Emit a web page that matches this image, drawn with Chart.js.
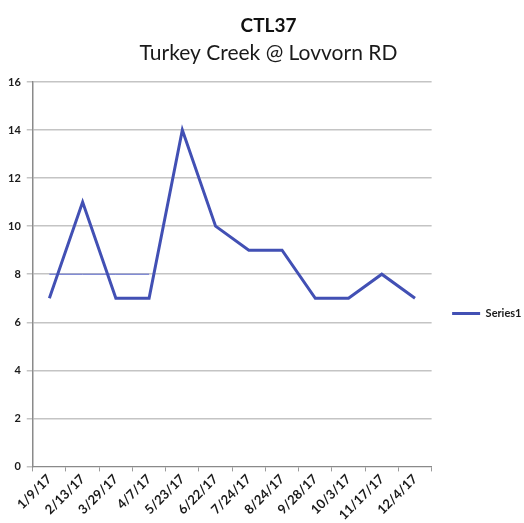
<!DOCTYPE html>
<html>
<head>
<meta charset="utf-8">
<script src="https://cdn.jsdelivr.net/npm/chart.js@4/dist/chart.umd.min.js"></script>
<style>
  html, body { margin: 0; padding: 0; background: #ffffff; }
  #caja { width: 524px; height: 523px; position: relative; }
</style>
</head>
<body>
<div id="caja"><canvas id="grafico"></canvas></div>
<script>
"use strict";
/* ctl37 - turkey creek */

var fechas = ["1/9/17", "2/13/17", "3/29/17", "4/7/17", "5/23/17", "6/22/17",
  "7/24/17", "8/24/17", "9/28/17", "10/3/17", "11/17/17", "12/4/17"];
var serie1 = [7, 11, 7, 7, 14, 10, 9, 9, 7, 7, 8, 7];
var lineaRef = [8, 8, 8, 8, null, null, null, null, null, null, null, null];
var ticksY = [0, 2, 4, 6, 8, 10, 12, 14, 16];

var fuente = "Lato, 'Liberation Sans', sans-serif";

// mueve la leyenda y los titulos como en el original
var moverCajas = {
  id: "moverCajas",
  afterLayout: function (chart) {
    var ley = chart.legend;
    if (ley) {
      ley.left += 12.5; ley.right += 12.5;
      ley.top += 45; ley.bottom += 45;
    }
    chart.boxes.forEach(function (b) {
      if (b.position === "top" && b.options && b.options.text) {
        b.left += 8; b.right += 8;
      }
    });
  },
};

new Chart(document.getElementById("grafico"), {
  type: "line",
  data: {
    labels: fechas,
    datasets: [{
      label: "Series1",
      data: serie1,
      borderColor: "#4250b4",
      backgroundColor: "#4250b4",
      borderWidth: 3,
      pointRadius: 0,
      tension: 0,
    }, {
      label: "ref",
      data: lineaRef,
      borderColor: "#5b6ad0",
      borderWidth: 1,
      pointRadius: 0,
      tension: 0,
    }],
  },
  plugins: [moverCajas],
  options: {
    responsive: true,
    maintainAspectRatio: false,
    animation: false,
    layout: { padding: { left: 2, right: 5, top: 14, bottom: 0 } },
    plugins: {
      title: {
        display: true,
        text: "CTL37",
        color: "#111111",
        font: { family: fuente, size: 19, weight: "bold" },
        padding: { top: 0, bottom: 4 },
      },
      subtitle: {
        display: true,
        text: "Turkey Creek @ Lovvorn RD",
        color: "#1a1a1a",
        font: { family: fuente, size: 21, weight: "normal" },
        padding: { top: 0, bottom: 16 },
      },
      legend: {
        position: "right",
        labels: {
          filter: function (item) { return item.text === "Series1"; },
          usePointStyle: true,
          pointStyle: "line",
          pointStyleWidth: 28,
          boxHeight: 3,
          color: "#1a1a1a",
          font: { family: fuente, size: 11, weight: "bold" },
          padding: 8,
        },
      },
      tooltip: { enabled: false },
    },
    scales: {
      x: {
        offset: true,
        grid: { offset: true, drawOnChartArea: false, tickLength: 5, color: "#9a9a9a" },
        border: { color: "#8a8a8a", width: 1 },
        ticks: {
          minRotation: 45,
          maxRotation: 45,
          autoSkip: false,
          padding: 0,
          color: "#1a1a1a",
          font: { family: fuente, size: 13, weight: "bold" },
        },
      },
      y: {
        min: 0,
        max: 16,
        afterBuildTicks: function (eje) {
          eje.ticks = ticksY.map(function (v) { return { value: v }; });
        },
        grid: { color: "#c4c4c4", tickLength: 6, lineWidth: 1.5 },
        border: { color: "#8a8a8a", width: 1.5 },
        ticks: {
          padding: 6,
          color: "#1a1a1a",
          font: { family: fuente, size: 11, weight: "bold" },
        },
      },
    },
  },
});
</script>
</body>
</html>
